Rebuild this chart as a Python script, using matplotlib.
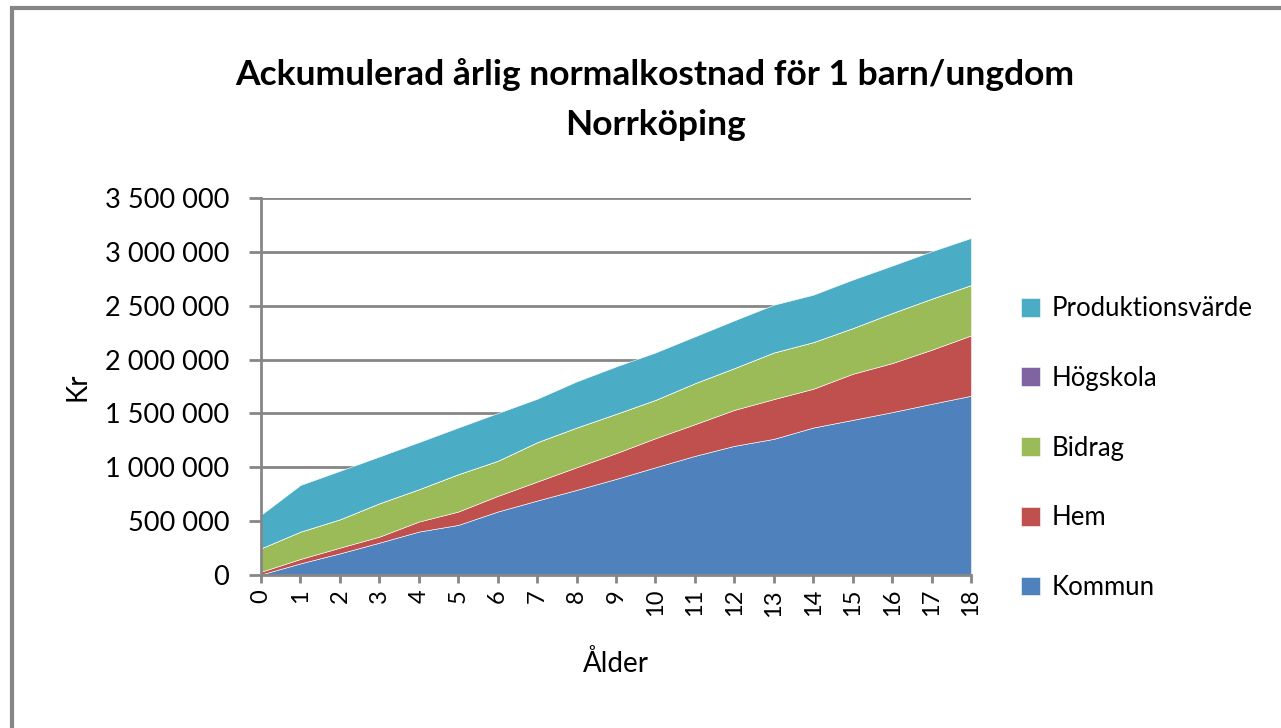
import matplotlib
matplotlib.use("Agg")
import matplotlib.pyplot as plt
from matplotlib.patches import Rectangle
from matplotlib.ticker import FuncFormatter

ages = list(range(0, 19))
kommun = [5000, 108000, 201000, 300000, 403000, 465000, 589000, 691000, 790000, 892000,
          1000000, 1106000, 1199000, 1264000, 1369000, 1440000, 1512000, 1589000, 1664000]
hem = [25000, 41000, 53000, 56000, 93000, 124000, 145000, 176000, 210000, 239000,
       270000, 294000, 334000, 369000, 360000, 428000, 455000, 502000, 560000]
bidrag = [218000, 254000, 263000, 310000, 300000, 347000, 326000, 366000, 369000, 365000,
          356000, 381000, 388000, 433000, 433000, 424000, 465000, 474000, 468000]
hogskola = [0] * 19
produktionsvarde = [310000, 433000, 450000, 434000, 437000, 433000, 443000, 403000, 428000, 440000,
                    440000, 434000, 443000, 443000, 440000, 450000, 440000, 440000, 437000]

series_names = ["Kommun", "Hem", "Bidrag", "Högskola", "Produktionsvärde"]
colors = ["#4F81BD", "#C0504D", "#9BBB59", "#8064A2", "#4BACC6"]

plt.rcParams['font.family'] = ['Lato', 'DejaVu Sans']

fig = plt.figure(figsize=(12.81, 7.28), dpi=100)
ax = fig.add_axes([261/1281, 1-575/728, (971-261)/1281, (575-198)/728])

polys = ax.stackplot(ages, kommun, hem, bidrag, hogskola, produktionsvarde,
                     colors=colors, labels=series_names, zorder=3)
for p in polys:
    p.set_edgecolor("white")
    p.set_linewidth(0.4)

ax.set_xlim(0, 18)
ax.set_ylim(0, 3500000)
ax.set_yticks(range(0, 3500001, 500000))
ax.yaxis.set_major_formatter(FuncFormatter(lambda v, p: f"{int(v):,}".replace(",", " ")))
ax.set_xticks(ages)
ax.set_xticklabels([str(a) for a in ages], rotation=90, fontsize=17)
ax.tick_params(axis='y', labelsize=19.5, length=9, width=2, color="#868686", direction='out', pad=14)
ax.tick_params(axis='x', length=6, width=2, color="#868686", direction='out', pad=4)
ax.grid(axis='y', color="#868686", linewidth=2, zorder=1)
ax.set_axisbelow(True)
for s in ["top", "right"]:
    ax.spines[s].set_visible(False)
for s in ["left", "bottom"]:
    ax.spines[s].set_color("#868686")
    ax.spines[s].set_linewidth(2)
    ax.spines[s].set_zorder(4)

ax.set_ylabel("Kr", fontsize=20, labelpad=10)
ax.set_xlabel("Ålder", fontsize=20, labelpad=24)

fig.text(655/1281, 1-75/728, "Ackumulerad årlig normalkostnad för 1 barn/ungdom",
         ha='center', va='center', fontsize=25.5, fontweight='bold')
fig.text(655/1281, 1-125/728, "Norrköping",
         ha='center', va='center', fontsize=25.5, fontweight='bold')

handles, labels = ax.get_legend_handles_labels()
leg = fig.legend(handles[::-1], labels[::-1], loc='upper left',
                 bbox_to_anchor=(998/1281, 1-273/728), frameon=False, fontsize=18.5,
                 handlelength=0.75, handleheight=0.75, handletextpad=0.45, labelspacing=1.74)

fig.patches.append(Rectangle((12/1281, -0.1), 1.2, 1.1 - 8/728, transform=fig.transFigure,
                             fill=False, edgecolor="#868686", linewidth=3))

fig.savefig("out.png", dpi=100)
